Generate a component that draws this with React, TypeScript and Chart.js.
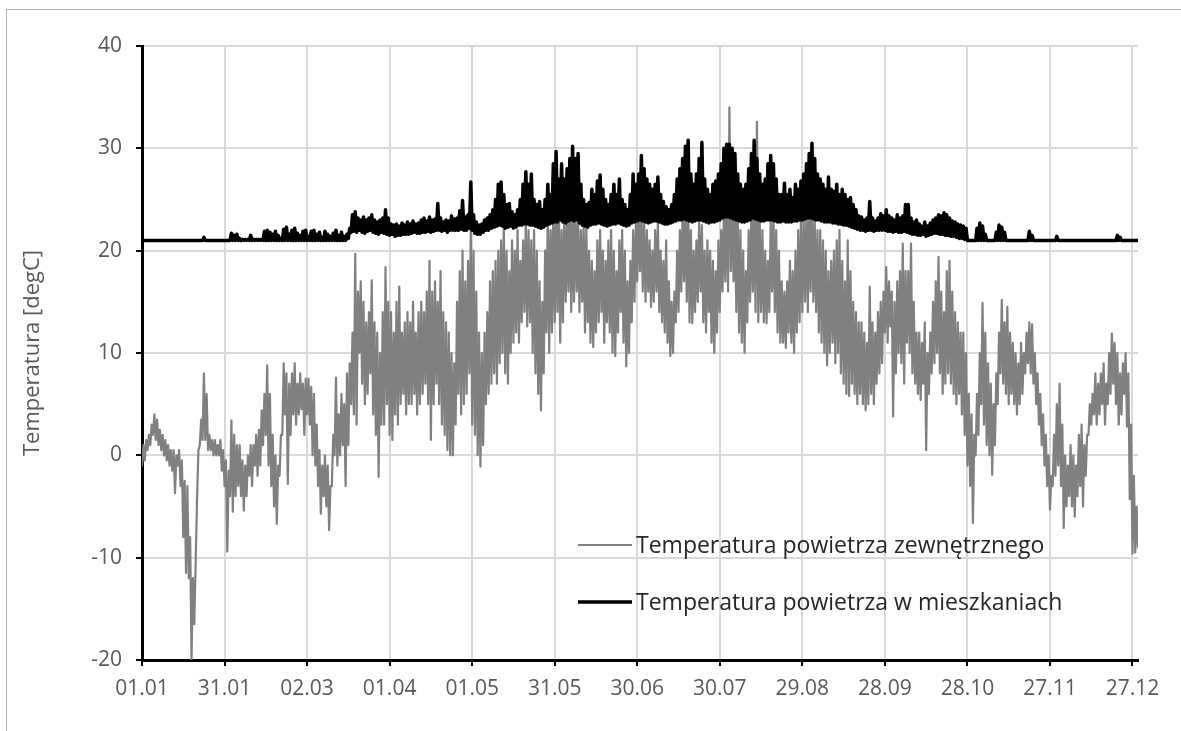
import React, { useEffect, useRef } from "react";
import { Chart, registerables } from "chart.js";

Chart.register(...registerables);

// ---- data ----
const tickDays = [0, 30, 60, 90, 120, 150, 180, 210, 240, 270, 300, 330, 360];
const tickLabels = ["01.01", "31.01", "02.03", "01.04", "01.05", "31.05", "30.06", "30.07", "29.08", "28.09", "28.10", "27.11", "27.12"];
const yTickValues = [-20, -10, 0, 10, 20, 30, 40];
const seriesNames = ["Temperatura powietrza zewnętrznego", "Temperatura powietrza w mieszkaniach"];
const yAxisTitle = "Temperatura [degC]";

// daily minimum / maximum of the outdoor air temperature (day 0 = 01.01)
const outdoorMin = [
  -1, -0.5, 0.5, 1, 2, 1.5, 1, 0.5, 0, -0.5,
  -1, -1.5, -3.7, -1, -3, -8, -11.5, -12, -20, -16.5,
  -4.4, 1, 1.5, 1.5, 0.5, 0.5, 0, 0, 0, -1.5,
  -3, -9.4, -4, -5.5, -4, -3, -4, -5.4, -4, -2,
  -3, -1, -2, -1, 1, 2, -1, -3, -5, -6.7,
  -2, 2, 4, -2.8, 2, 4, 3, 4, 4.5, 2,
  4, 3, 0, -1, -3, -5.7, -4, -5, -7.3, -3,
  0, -1, 0, 1, -3, 1, 5, 4, 3, 10,
  7, 5, 6, 8, 4, 2, -2.1, 3, 3, 5,
  2, 1.5, 4, 3, 5, 6, 4, 5, 5, 6,
  4, 5, 6, 7, 5, 1.5, 5, 7, 5, 3,
  2, 0.5, 0, 0, 3, 6, 4, 5, 6, 8,
  3, 2, 0, -1.1, 1, 5, 6, 7, 8, 7,
  9, 10, 8, 7, 10, 11, 12, 11, 13, 14,
  12.6, 13, 10, 8, 6, 4.4, 8, 12, 10, 12,
  13, 14, 11, 13, 15, 16, 14, 15, 16, 14,
  15, 12, 13, 11, 10.6, 12, 13, 14, 11, 13,
  12, 10, 9.7, 12, 14, 11, 8.7, 10, 13, 15,
  17, 18, 16, 15, 16, 14.5, 15, 16, 14, 13,
  12, 11, 9.7, 10, 13, 14, 16, 17, 15, 13,
  12.9, 14, 15, 16, 13, 12, 14, 11, 10, 12,
  14, 16, 17, 16, 18, 17, 14, 12, 11, 10,
  13, 15, 16, 14, 13, 14, 13, 12.9, 14, 16,
  14, 12, 11, 11, 10.5, 12, 11, 10, 12, 13,
  14, 15, 14, 16, 15, 14, 12, 11, 10, 8.8,
  10, 11, 9, 10, 8, 7, 6, 5.8, 7, 6,
  5, 6, 5, 4.4, 5, 6, 5, 7, 8, 9,
  12, 11, 12.6, 3.8, 8, 10, 9, 7, 11, 10,
  8, 7, 6, 5.4, 7, 0.5, 6, 8, 9, 10,
  8, 6, 7, 8, 7, 6, 5, 6, 4, 2,
  -1, -3, -6.6, 0, 2, 5, 3, 1, 0, -1.9,
  1, 5, 8, 7, 6, 5, 6, 5, 4, 5,
  6, 8, 9, 8, 7, 5, 3, 1, -1, -3,
  -5.3, -3, -2, -1, -3, -7.1, -5, -4, -5, -6,
  -4, -3, -5, -2, 2, 3, 4, 3, 4, 5,
  3, 5, 6, 7, 5, 3, 4, 6, 2.8, -4.3,
  -9.6, -9.5, -9,
];
const outdoorMax = [
  1, 1.5, 2, 3, 4, 3.5, 2.5, 2, 1.5, 1,
  0.5, 0.5, 0, 0.5, -0.5, -2.5, -3, -8, -12, -10.5,
  0.5, 3.5, 8, 6, 2, 1.5, 1.5, 1, 1.5, 0.5,
  -0.5, -1.5, 3.4, 2, 1, 1, -0.5, -1, 0, 1,
  1, 2, 2.5, 4.4, 6, 8.8, 6, 2, 0, -1,
  2, 9, 8, 7, 8, 9, 7, 8, 7, 7.5,
  7.5, 6.7, 6, 3, 0.5, -1, 0, -1, -3, 2,
  7.6, 4, 6, 5, 8, 9, 12, 19.7, 16, 17,
  15, 13, 14, 17.1, 13, 12, 10, 14, 18.4, 15,
  14, 12, 15, 16.5, 12, 13, 14, 13, 15, 12,
  14, 15, 14, 16, 19, 16, 17, 15, 18, 14,
  13, 12, 10, 9, 15, 18, 20, 17, 19, 22.3,
  20, 16, 12, 10, 12, 14, 17, 18, 19, 20,
  21, 22.7, 20, 18, 21, 20, 22, 19, 21, 23,
  22, 21, 22, 20, 17, 15, 20, 24, 22, 25,
  24, 25, 22, 24, 23, 25, 24, 24.7, 23, 22,
  23, 22.4, 20, 19, 18, 21, 22, 20, 19, 21,
  22, 20, 18, 21, 22, 20, 17, 19, 22, 23,
  24.6, 24, 23, 22, 21, 20, 22, 23, 20, 19,
  21, 17, 15, 16, 20, 22, 24, 25, 25.6, 22,
  20, 21, 23, 22.5, 20, 21, 20, 19, 18, 21,
  22, 24, 26, 34, 26, 25, 24, 22, 20, 18,
  22, 24, 25, 32.6, 23, 22, 20, 19, 23, 24,
  22, 20, 17, 16, 17, 19, 18, 20, 22, 23,
  23, 24, 25, 25, 23, 22, 22, 21, 20, 18,
  19, 20, 21, 22, 19, 17, 21, 18, 15, 14,
  13, 13, 12, 11, 16.5, 13, 12, 14, 15, 16,
  18.4, 17, 16, 15, 17, 18, 20.7, 18, 18, 20.7,
  15, 12, 12, 11, 13, 10, 12, 15, 17, 19.4,
  16, 14, 18, 19, 16, 14, 13, 12, 12, 10,
  6, 4, 2, 6, 10, 14.9, 12, 9, 7, 5,
  8, 12, 15.2, 13, 14.5, 12, 11, 10, 9, 11,
  10, 12, 13, 12.8, 10, 8, 6, 4, 2, 0,
  -2, 2, 5, 7, 3, 0, -1, 1, 0, -1,
  2, 3, 1, 2, 5, 6, 8, 7, 8, 9,
  7, 10, 11.9, 11, 10, 8, 9, 10, 8, 3,
  -2, -5, -5,
];

// daily minimum / maximum of the indoor air temperature
const indoorMin = [
  21, 21, 21, 21, 21, 21, 21, 21, 21, 21,
  21, 21, 21, 21, 21, 21, 21, 21, 21, 21,
  21, 21, 21, 21, 21, 21, 21, 21, 21, 21,
  21, 21, 21, 21, 21, 21, 21, 21, 21, 21,
  21, 21, 21, 21, 21, 21, 21, 21, 21, 21,
  21, 21, 21, 21, 21, 21, 21, 21, 21, 21,
  21, 21, 21, 21, 21, 21, 21, 21, 21, 21,
  21, 21, 21, 21, 21, 21.2, 21.8, 21.9, 21.8, 22,
  21.8, 21.7, 21.9, 22, 21.8, 21.7, 21.6, 21.8, 21.7, 21.6,
  21.5, 21.6, 21.4, 21.5, 21.5, 21.6, 21.6, 21.6, 21.7, 21.8,
  21.7, 21.7, 21.8, 21.8, 21.9, 21.8, 21.9, 22, 22, 21.9,
  22, 21.8, 22, 22, 22, 22, 22.1, 22, 22, 22.2,
  22, 21.7, 21.6, 21.6, 21.8, 22, 22, 22.2, 22.3, 22.4,
  22.5, 22.4, 22.2, 22.3, 22.4, 22.2, 22.3, 22.5, 22.5, 22.6,
  22.6, 22.5, 22.5, 22.4, 22.3, 22.2, 22.3, 22.5, 22.6, 22.7,
  22.8, 22.8, 23, 22.8, 22.7, 22.9, 23, 22.9, 23, 22.7,
  22.5, 22.4, 22.3, 22.5, 22.6, 22.6, 22.7, 22.6, 22.5, 22.4,
  22.5, 22.6, 22.6, 22.7, 22.6, 22.5, 22.4, 22.5, 22.7, 22.8,
  22.9, 23, 22.9, 22.8, 22.7, 22.8, 22.9, 22.9, 22.8, 22.7,
  22.6, 22.6, 22.7, 22.8, 22.9, 23, 23, 23.1, 23, 22.9,
  22.8, 22.9, 23, 23, 22.9, 22.8, 22.7, 22.8, 22.8, 22.9,
  23, 23.2, 23.3, 23.3, 23.2, 23.1, 23, 22.9, 22.8, 22.8,
  22.9, 23, 23.2, 23.1, 23, 22.9, 22.9, 23, 23, 23,
  22.9, 22.8, 22.8, 22.9, 22.8, 22.8, 22.8, 22.9, 22.9, 23,
  23, 23.1, 23.2, 23.2, 23.1, 23, 23, 22.9, 22.8, 22.8,
  22.8, 22.7, 22.7, 22.6, 22.6, 22.5, 22.5, 22.4, 22.3, 22.2,
  22.1, 22, 22, 21.9, 22, 22, 21.9, 22, 22, 22,
  22, 21.9, 21.9, 21.8, 21.9, 21.8, 21.8, 21.9, 21.8, 21.7,
  21.6, 21.6, 21.5, 21.5, 21.6, 21.4, 21.5, 21.6, 21.7, 21.7,
  21.6, 21.6, 21.5, 21.5, 21.4, 21.4, 21.3, 21.2, 21.2, 21.1,
  21, 21, 21, 21, 21, 21, 21, 21, 21, 21,
  21, 21, 21, 21, 21, 21, 21, 21, 21, 21,
  21, 21, 21, 21, 21, 21, 21, 21, 21, 21,
  21, 21, 21, 21, 21, 21, 21, 21, 21, 21,
  21, 21, 21, 21, 21, 21, 21, 21, 21, 21,
  21, 21, 21, 21, 21, 21, 21, 21, 21, 21,
  21, 21, 21,
];
const indoorMax = [
  21, 21, 21, 21, 21, 21, 21, 21, 21, 21,
  21, 21, 21, 21, 21, 21, 21, 21, 21, 21,
  21, 21, 21.3, 21, 21, 21, 21, 21, 21, 21,
  21, 21, 21.7, 21.5, 21.6, 21.2, 21.1, 21.1, 21.1, 21.5,
  21.1, 21.1, 21.1, 21.1, 21.9, 22, 21.8, 21.6, 21.9, 21.5,
  21.2, 22.1, 22.3, 21.6, 22, 22.2, 21.7, 21.5, 21.9, 22,
  21.4, 21.9, 22, 21.6, 21.8, 21.3, 21.9, 21.6, 21.4, 21.7,
  22, 21.5, 21.8, 21.4, 21.6, 22.2, 23.5, 23.8, 23.2, 23,
  23.3, 23, 23.2, 23.5, 23, 22.8, 23, 23.2, 24, 23.2,
  22.6, 22.5, 22.6, 22.4, 22.7, 22.5, 22.8, 22.6, 22.9, 22.6,
  22.7, 23, 23.2, 22.9, 23.3, 23, 23.1, 24.6, 23.2, 22.8,
  23, 22.9, 23.4, 23.1, 23.2, 23.9, 24.9, 23.3, 23.5, 26.7,
  23.5, 22.8, 22.5, 22.6, 23, 23.2, 23.5, 24, 25, 26.5,
  26.7, 25.5, 24.5, 24.6, 23.8, 23.5, 24, 25, 26.5, 27.7,
  26.5, 27.5, 25, 24.5, 24.8, 24, 25, 26.5, 25.5, 28.5,
  29.7, 27, 28.5, 27, 28, 29, 30.2, 29, 29.5, 26.5,
  25, 24.5, 24.7, 26, 25.5, 26.8, 27.4, 26, 25, 24.5,
  25.5, 26.5, 25.5, 27, 25, 24.5, 24, 25.5, 27.5, 26.5,
  27.5, 29.3, 28, 27, 26.5, 26, 26.5, 27.2, 25.5, 24.8,
  24.3, 24, 24.5, 25.5, 27, 28, 29, 30.2, 30.8, 27.5,
  26.5, 27.5, 29, 30.6, 27, 26, 25.5, 26.5, 26.8, 27.5,
  28.5, 30, 30.4, 30.4, 30, 29.5, 27.5, 26.5, 26, 26.5,
  28, 29.5, 30.8, 29, 27.5, 26.5, 27, 28.5, 29.3, 28.5,
  27, 25.5, 25.5, 26.6, 25.5, 26, 25.2, 26.5, 26, 26.8,
  27.5, 28.5, 29.5, 30.5, 29, 27.5, 27, 26.5, 26, 27.2,
  26, 25.8, 26.5, 25.5, 26, 25.5, 25, 25.2, 24.5, 24,
  23.4, 23.3, 23, 23.2, 24.8, 23.2, 22.9, 23.2, 23.6, 23.4,
  24, 23.4, 23.2, 23, 23.5, 23.2, 23.4, 24.5, 24.5, 23.2,
  22.8, 23, 22.6, 22.4, 22.8, 22.4, 22.7, 23, 23.2, 23.5,
  23.4, 23.7, 23.5, 23.2, 22.9, 22.8, 22.6, 22.5, 22.4, 22.2,
  21, 21, 21, 22.2, 22.7, 22.4, 21.6, 21, 21, 21,
  21.8, 22.5, 22.3, 21.8, 21, 21, 21, 21, 21, 21,
  21, 21, 21.9, 21.5, 21, 21, 21, 21, 21, 21,
  21, 21, 21.4, 21, 21, 21, 21, 21, 21, 21,
  21, 21, 21, 21, 21, 21, 21, 21, 21, 21,
  21, 21, 21, 21, 21.5, 21.3, 21, 21, 21, 21,
  21, 21, 21,
];

const X_MAX_DAY = 362;

function dailyPoints(mins: number[], maxs: number[]) {
  const pts: { x: number; y: number }[] = [];
  mins.forEach((lo, d) => {
    pts.push({ x: d, y: lo });
    pts.push({ x: d + 0.5, y: maxs[d] });
  });
  return pts;
}

const FONT = "'Open Sans', 'DejaVu Sans', sans-serif";

const legendPlugin = {
  id: "insideLegend",
  afterDraw(chart: any) {
    const ctx = chart.ctx;
    const items = [
      { label: seriesNames[0], color: "#808080", width: 2, y: 545 },
      { label: seriesNames[1], color: "#000000", width: 3.5, y: 602 },
    ];
    ctx.save();
    items.forEach((it) => {
      ctx.beginPath();
      ctx.strokeStyle = it.color;
      ctx.lineWidth = it.width;
      ctx.moveTo(578, it.y);
      ctx.lineTo(632, it.y);
      ctx.stroke();
      ctx.fillStyle = "#262626";
      ctx.font = `23px ${FONT}`;
      ctx.textAlign = "left";
      ctx.textBaseline = "middle";
      ctx.fillText(it.label, 636, it.y + 1);
    });
    ctx.restore();
  },
};

export default function App() {
  const canvasRef = useRef<HTMLCanvasElement | null>(null);

  useEffect(() => {
    if (!canvasRef.current) return;
    const chart = new Chart(canvasRef.current, {
      type: "line",
      data: {
        datasets: [
          {
            label: seriesNames[1],
            data: dailyPoints(indoorMin, indoorMax),
            borderColor: "#000000",
            borderWidth: 3.5,
            borderJoinStyle: "round",
            borderCapStyle: "round",
            pointRadius: 0,
            tension: 0,
            order: 0,
          },
          {
            label: seriesNames[0],
            data: dailyPoints(outdoorMin, outdoorMax),
            borderColor: "#808080",
            borderWidth: 2.2,
            borderJoinStyle: "round",
            borderCapStyle: "round",
            pointRadius: 0,
            tension: 0,
            order: 1,
          },
        ],
      },
      options: {
        responsive: false,
        animation: false,
        devicePixelRatio: 1,
        events: [],
        layout: { padding: { left: 0, top: 46, right: 43, bottom: 0 } },
        plugins: {
          legend: { display: false },
          tooltip: { enabled: false },
        },
        scales: {
          x: {
            type: "linear",
            min: 0,
            max: X_MAX_DAY,
            afterBuildTicks: (scale: any) => {
              scale.ticks = tickDays.map((v) => ({ value: v }));
            },
            afterFit: (scale: any) => {
              scale.height = 71;
            },
            ticks: {
              autoSkip: false,
              maxRotation: 0,
              padding: 10,
              color: "#595959",
              font: { size: 21, family: FONT },
              callback: (v: any) => tickLabels[tickDays.indexOf(Number(v))] ?? "",
            },
            grid: {
              color: "#d9d9d9",
              lineWidth: 2,
              tickColor: "#000000",
              tickLength: 6,
              tickWidth: 2,
            },
            border: { color: "#000000", width: 3 },
          },
          y: {
            type: "linear",
            min: -20,
            max: 40,
            afterBuildTicks: (scale: any) => {
              scale.ticks = yTickValues.map((v) => ({ value: v }));
            },
            afterFit: (scale: any) => {
              scale.width = 142;
            },
            ticks: {
              padding: 14,
              color: "#595959",
              font: { size: 21, family: FONT },
            },
            grid: {
              color: "#d9d9d9",
              lineWidth: 2,
              tickColor: "#000000",
              tickLength: 6,
              tickWidth: 2,
            },
            border: { color: "#000000", width: 3 },
            title: {
              display: true,
              text: yAxisTitle,
              color: "#595959",
              font: { size: 22, family: FONT },
              padding: { top: 20, bottom: 0 },
            },
          },
        },
      },
      plugins: [legendPlugin],
    } as any);
    return () => chart.destroy();
  }, []);

  return (
    <>
      <div
        style={{
          position: "fixed",
          left: 6,
          top: 9,
          right: 0,
          bottom: 0,
          borderLeft: "1px solid #b0b0b0",
          borderTop: "1px solid #b0b0b0",
          background: "#ffffff",
        }}
      />
      <canvas
        ref={canvasRef}
        width={1181}
        height={731}
        style={{ position: "fixed", left: 0, top: 0, width: 1181, height: 731 }}
      />
    </>
  );
}
